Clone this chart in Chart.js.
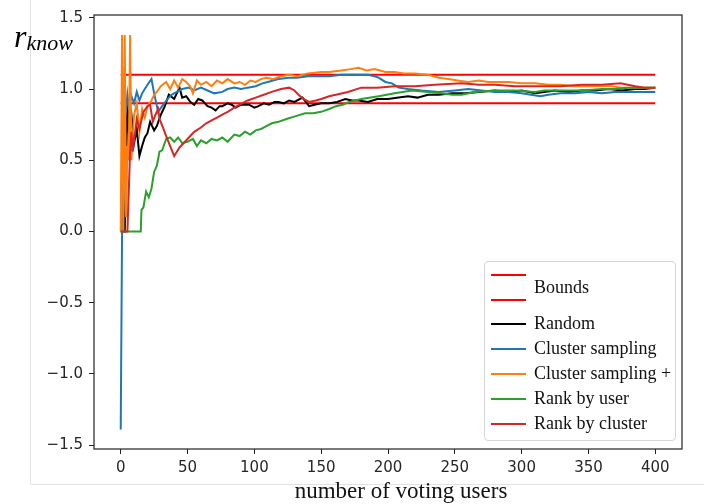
<!DOCTYPE html>
<html>
<head>
<meta charset="utf-8">
<script src="https://cdn.jsdelivr.net/npm/chart.js@4.4.1/dist/chart.umd.min.js"></script>
<style>
  body { margin: 0; background: #fff; }
  #wrap { position: relative; width: 704px; height: 504px; }
  #ylabel { position: absolute; left: 14px; top: 18px; font-family: "Liberation Serif", serif; font-style: italic; white-space: nowrap; }
  #ylabel .r { font-size: 32px; }
  #ylabel sub { font-size: 22px; vertical-align: -3px; }
  #xlabel { position: absolute; left: 251px; width: 300px; top: 478px; line-height: 26px; text-align: center;
            font-family: "Liberation Serif", serif; font-size: 23px; color: #111; white-space: nowrap; }
  #legend { position: absolute; left: 484px; top: 261px; width: 190px; height: 178px;
            border: 1px solid #d6d6d6; border-radius: 4px; background: rgba(255,255,255,0.85);
            font-family: "Liberation Serif", serif; font-size: 18px; color: #111; }
  .lg-line { position: absolute; left: 6px; width: 35px; height: 2px; }
  .lg-text { position: absolute; left: 49px; line-height: 20px; white-space: nowrap; }
</style>
</head>
<body>
<div id="wrap">
  <canvas id="chart" width="704" height="504"></canvas>
  <div id="ylabel"><span class="r">r</span><sub>know</sub></div>
  <div id="xlabel">number of voting users</div>
  <div id="legend"></div>
</div>
<script>
// axis ticks
const xTicks = [0, 50, 100, 150, 200, 250, 300, 350, 400];
const yTicks = [-1.5, -1.0, -0.5, 0.0, 0.5, 1.0, 1.5];

// bounds
const boundX = [0, 400];
const upperBound = [1.1, 1.1];
const lowerBound = [0.9, 0.9];

// Random
const randomX = [0, 3, 5, 6, 8, 10, 12, 14, 16, 18, 20, 22, 25, 27, 30, 33, 36, 40, 44, 46, 49, 52, 55, 58, 61, 65, 68, 71, 74, 76, 80, 83, 86, 90, 96, 100, 103, 107, 111, 115, 118, 122, 126, 130, 136, 141, 145, 150, 156, 162, 168, 173, 178, 185, 192, 200, 208, 215, 222, 230, 238, 248, 258, 268, 280, 290, 300, 310, 317, 325, 335, 345, 355, 365, 375, 385, 392, 400];
const randomY = [0, 0, 0.93, 0.72, 0.82, 0.62, 0.72, 0.53, 0.6, 0.66, 0.69, 0.77, 0.71, 0.74, 0.82, 0.88, 0.96, 0.93, 1.01, 0.94, 0.95, 0.91, 0.89, 0.93, 0.92, 0.88, 0.87, 0.85, 0.88, 0.88, 0.9, 0.89, 0.87, 0.89, 0.89, 0.87, 0.88, 0.9, 0.89, 0.91, 0.91, 0.9, 0.92, 0.91, 0.94, 0.88, 0.89, 0.9, 0.9, 0.91, 0.93, 0.92, 0.92, 0.91, 0.93, 0.93, 0.94, 0.95, 0.94, 0.96, 0.96, 0.97, 0.97, 0.98, 0.99, 0.98, 0.99, 0.97, 0.98, 0.99, 0.98, 0.99, 0.99, 1.0, 0.99, 1.0, 1.0, 1.01];

// Cluster sampling
const clusterX = [0, 1, 2, 3, 4, 5, 6, 8, 10, 12, 14, 16, 18, 20, 23, 25, 28, 31, 35, 38, 42, 46, 51, 55, 60, 65, 70, 76, 80, 85, 90, 95, 101, 106, 110, 118, 126, 132, 140, 148, 156, 165, 175, 185, 190, 193, 198, 203, 208, 215, 225, 238, 250, 260, 270, 280, 290, 300, 307, 314, 320, 329, 340, 350, 360, 370, 380, 390, 400];
const clusterY = [-1.39, 0, 0.5, 0.8, 0.85, 0.96, 0.88, 0.95, 0.9, 0.98, 0.92, 0.97, 1.0, 1.03, 1.07, 0.97, 0.84, 0.88, 0.93, 0.96, 0.98, 1.0, 1.01, 0.99, 1.01, 0.99, 0.97, 0.98, 1.0, 1.01, 1.0, 1.01, 1.02, 1.04, 1.05, 1.07, 1.08, 1.08, 1.09, 1.09, 1.09, 1.1, 1.1, 1.1, 1.09, 1.08, 1.05, 1.04, 1.01, 1.0, 0.99, 0.98, 0.99, 1.0, 0.99, 0.98, 0.98, 0.97, 0.96, 0.95, 0.96, 0.97, 0.97, 0.98, 0.97, 0.98, 0.98, 0.98, 0.98];

// Cluster sampling +
const clusterPlusX = [0, 1, 2, 3, 4, 5, 6, 7, 8, 10, 12, 14, 16, 18, 20, 23, 25, 27, 30, 34, 37, 40, 43, 46, 49, 52, 54, 57, 60, 64, 68, 72, 76, 80, 85, 89, 93, 97, 101, 105, 109, 114, 120, 126, 132, 140, 150, 156, 165, 172, 178, 184, 190, 198, 205, 212, 220, 230, 234, 238, 245, 252, 260, 268, 275, 282, 290, 300, 310, 320, 329, 340, 350, 360, 367, 375, 385, 392, 400];
const clusterPlusY = [0, 1.38, 0, 1.38, 0.1, 0.6, 0.5, 1.38, 0.5, 0.82, 0.9, 0.7, 0.86, 0.8, 0.88, 0.92, 0.96, 0.98, 1.02, 1.05, 1.0, 1.06, 1.01, 1.07, 1.05, 1.02, 0.97, 1.06, 1.03, 1.05, 1.02, 1.06, 1.04, 1.07, 1.04, 1.05, 1.03, 1.06, 1.05, 1.07, 1.08, 1.07, 1.09, 1.1, 1.09, 1.11, 1.12, 1.12, 1.13, 1.14, 1.15, 1.13, 1.14, 1.12, 1.12, 1.11, 1.11, 1.1, 1.09, 1.08, 1.07, 1.06, 1.05, 1.06, 1.05, 1.05, 1.05, 1.04, 1.04, 1.03, 1.03, 1.02, 1.02, 1.02, 1.02, 1.01, 1.01, 1.01, 1.01];

// Rank by user
const rankUserX = [0, 15, 15.5, 17, 19, 21, 23, 25, 27, 29, 31, 34, 37, 40, 43, 46, 50, 54, 57, 60, 64, 68, 72, 76, 80, 85, 89, 93, 97, 101, 105, 109, 113, 118, 124, 131, 138, 144, 150, 156, 161, 166, 171, 180, 193, 205, 218, 230, 240, 248, 255, 265, 280, 295, 310, 317, 330, 345, 360, 370, 379, 390, 400];
const rankUserY = [0, 0, 0.15, 0.17, 0.28, 0.24, 0.3, 0.42, 0.46, 0.56, 0.57, 0.65, 0.66, 0.63, 0.66, 0.62, 0.63, 0.65, 0.6, 0.64, 0.62, 0.65, 0.64, 0.66, 0.63, 0.68, 0.67, 0.7, 0.68, 0.71, 0.72, 0.74, 0.76, 0.77, 0.79, 0.81, 0.83, 0.83, 0.84, 0.86, 0.88, 0.89, 0.91, 0.93, 0.95, 0.97, 0.99, 0.98, 0.97, 0.96, 0.96, 0.98, 0.99, 0.99, 0.98, 0.99, 0.99, 0.99, 1.0, 1.0, 1.01, 1.01, 1.01];

// Rank by cluster
const rankClusterX = [0, 5, 7, 8, 9, 12, 14, 17, 20, 22, 24, 26, 28, 29, 32, 34, 37, 40, 42, 44, 47, 51, 55, 60, 64, 68, 72, 76, 80, 85, 89, 95, 101, 107, 113, 120, 126, 130, 133, 137, 141, 146, 150, 156, 161, 170, 180, 192, 205, 220, 235, 255, 268, 280, 295, 310, 329, 345, 360, 374, 385, 392, 400];
const rankClusterY = [0, 0, 0.56, 0.7, 0.56, 0.79, 0.72, 0.84, 0.88, 0.89, 0.77, 0.82, 0.86, 0.79, 0.72, 0.67, 0.6, 0.53, 0.56, 0.59, 0.62, 0.66, 0.7, 0.73, 0.76, 0.78, 0.8, 0.82, 0.84, 0.87, 0.89, 0.92, 0.94, 0.96, 0.98, 1.0, 1.01, 0.99, 0.96, 0.93, 0.91, 0.92, 0.93, 0.95, 0.96, 0.98, 1.01, 1.01, 1.02, 1.02, 1.03, 1.04, 1.03, 1.03, 1.02, 1.02, 1.02, 1.03, 1.03, 1.04, 1.02, 1.01, 1.01];

function toPoints(xs, ys) {
    return xs.map((x, i) => ({ x: x, y: ys[i] }));
}

function makeSeries(label, xs, ys, color, order) {
    return {
        label: label,
        data: toPoints(xs, ys),
        borderColor: color,
        backgroundColor: color,
        borderWidth: 2,
        pointRadius: 0,
        tension: 0,
        order: order
    };
}

const datasets = [
    makeSeries("Bounds", boundX, upperBound, "#ff0000", 10),
    makeSeries("Bounds", boundX, lowerBound, "#ff0000", 9),
    makeSeries("Random", randomX, randomY, "#000000", 5),
    makeSeries("Cluster sampling", clusterX, clusterY, "#1f77b4", 4),
    makeSeries("Cluster sampling +", clusterPlusX, clusterPlusY, "#ff7f0e", 3),
    makeSeries("Rank by user", rankUserX, rankUserY, "#2ca02c", 2),
    makeSeries("Rank by cluster", rankClusterX, rankClusterY, "#d62728", 1)
];

// light screenshot border + axes frame
const framePlugin = {
    id: "frame",
    beforeDraw(chart) {
        const ctx = chart.ctx;
        ctx.save();
        ctx.strokeStyle = "#e2e2e2";
        ctx.lineWidth = 1;
        ctx.beginPath();
        ctx.moveTo(30.5, 0);
        ctx.lineTo(30.5, 484.5);
        ctx.lineTo(704, 484.5);
        ctx.stroke();
        ctx.restore();
    },
    afterDatasetsDraw(chart) {
        const a = chart.chartArea;
        const ctx = chart.ctx;
        ctx.save();
        ctx.strokeStyle = "#222";
        ctx.lineWidth = 1.2;
        ctx.strokeRect(a.left, a.top, a.right - a.left, a.bottom - a.top);
        ctx.restore();
    }
};

const chart = new Chart(document.getElementById("chart").getContext("2d"), {
    type: "line",
    data: { datasets: datasets },
    options: {
        responsive: false,
        animation: false,
        layout: { padding: { left: 0, right: 22, top: 9, bottom: 0 } },
        plugins: {
            legend: { display: false },
            tooltip: { enabled: false }
        },
        scales: {
            x: {
                type: "linear",
                min: -20,
                max: 420,
                afterBuildTicks: (scale) => { scale.ticks = xTicks.map(v => ({ value: v })); },
                afterFit: (scale) => { scale.height = 55; },
                grid: { drawOnChartArea: false, drawTicks: true, tickLength: 5, color: "#222" },
                border: { display: false },
                ticks: {
                    color: "#262626",
                    padding: 5,
                    maxRotation: 0,
                    font: { family: "DejaVu Sans", size: 15 }
                }
            },
            y: {
                min: -1.527,
                max: 1.52,
                afterBuildTicks: (scale) => { scale.ticks = yTicks.map(v => ({ value: v })); },
                afterFit: (scale) => { scale.width = 94; },
                grid: { drawOnChartArea: false, drawTicks: true, tickLength: 5, color: "#222" },
                border: { display: false },
                ticks: {
                    color: "#262626",
                    padding: 6,
                    font: { family: "DejaVu Sans", size: 15 },
                    callback: (v) => v.toFixed(1).replace("-", "\u2212")
                }
            }
        }
    },
    plugins: [framePlugin]
});

// legend built from the datasets ("Bounds" pair shares one label)
function renderLegend() {
    const box = document.getElementById("legend");
    const rowGap = 25;
    let html = "";
    const bounds = datasets.filter(d => d.label === "Bounds");
    html += `<div class="lg-line" style="top:12px;background:${bounds[0].borderColor}"></div>`;
    html += `<div class="lg-line" style="top:37px;background:${bounds[1].borderColor}"></div>`;
    html += `<div class="lg-text" style="top:15px">Bounds</div>`;
    const others = datasets.filter(d => d.label !== "Bounds");
    others.forEach((d, i) => {
        const cy = 62 + i * rowGap;
        html += `<div class="lg-line" style="top:${cy - 1}px;background:${d.borderColor}"></div>`;
        html += `<div class="lg-text" style="top:${cy - 11}px">${d.label}</div>`;
    });
    box.innerHTML = html;
}

renderLegend();
</script>
</body>
</html>
